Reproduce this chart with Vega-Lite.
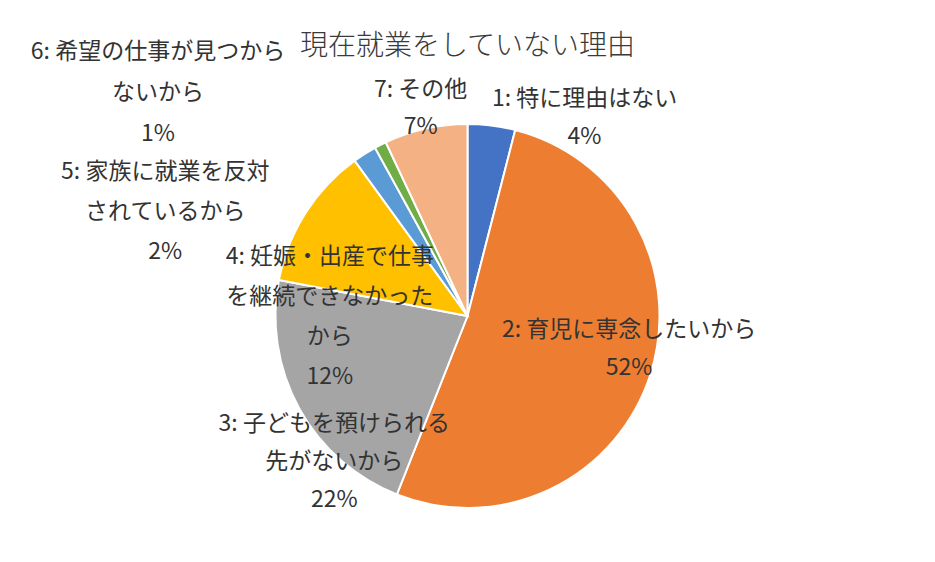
{
  "$schema": "https://vega.github.io/schema/vega-lite/v6.json",
  "width": 935,
  "height": 492,
  "autosize": "none",
  "padding": {"top": 70, "left": 0, "right": 0, "bottom": 0},
  "background": "white",
  "title": {"text": "現在就業をしていない理由", "font": "Noto Sans CJK JP", "fontSize": 28, "fontWeight": 300, "color": "#3a3a3a", "anchor": "middle", "baseline": "middle", "offset": 26, "dy": 60},
  "data": {"values": [
    {"id": 1, "label": "1: 特に理由はない", "value": 4},
    {"id": 2, "label": "2: 育児に専念したいから", "value": 52},
    {"id": 3, "label": "3: 子どもを預けられる\n先がないから", "value": 22},
    {"id": 4, "label": "4: 妊娠・出産で仕事\nを継続できなかった\nから", "value": 12},
    {"id": 5, "label": "5: 家族に就業を反対\nされているから", "value": 2},
    {"id": 6, "label": "6: 希望の仕事が見つから\nないから", "value": 1},
    {"id": 7, "label": "7: その他", "value": 7}
  ]},
  "transform": [
    {"stack": "value", "groupby": [], "sort": [{"field": "id", "order": "ascending"}], "as": ["v0", "v1"]},
    {"calculate": "(datum.v0 + datum.v1) / 2", "as": "mid"},
    {"calculate": "datum.label + '\\n' + datum.value + '%'", "as": "txt"}
  ],
  "layer": [
    {
      "mark": {"type": "arc", "radius": 192, "stroke": "white", "strokeWidth": 2},
      "encoding": {
        "theta": {"field": "v0", "type": "quantitative", "scale": {"domain": [0, 100]}},
        "theta2": {"field": "v1"},
        "color": {"field": "id", "type": "nominal", "legend": null,
          "scale": {"domain": [1, 2, 3, 4, 5, 6, 7], "range": ["#4472C4", "#ED7D31", "#A5A5A5", "#FFC000", "#5B9BD5", "#70AD47", "#F4B183"]}}
      }
    },
    {"transform": [{"filter": "datum.id == 1"}], "mark": {"type": "text", "radius": 200, "dx": 92, "dy": -19, "align": "center", "baseline": "middle", "lineBreak": "\n", "lineHeight": 38, "font": "Noto Sans CJK JP", "fontSize": 23, "color": "#333333"},
     "encoding": {"theta": {"field": "mid", "type": "quantitative", "scale": {"domain": [0, 100]}}, "text": {"field": "txt"}}},
    {"transform": [{"filter": "datum.id == 2"}], "mark": {"type": "text", "radius": 170, "dx": 0, "dy": -39, "align": "center", "baseline": "middle", "lineBreak": "\n", "lineHeight": 38, "font": "Noto Sans CJK JP", "fontSize": 23, "color": "#333333"},
     "encoding": {"theta": {"field": "mid", "type": "quantitative", "scale": {"domain": [0, 100]}}, "text": {"field": "txt"}}},
    {"transform": [{"filter": "datum.id == 3"}], "mark": {"type": "text", "radius": 200, "dx": 42, "dy": 12, "align": "center", "baseline": "middle", "lineBreak": "\n", "lineHeight": 38, "font": "Noto Sans CJK JP", "fontSize": 23, "color": "#333333"},
     "encoding": {"theta": {"field": "mid", "type": "quantitative", "scale": {"domain": [0, 100]}}, "text": {"field": "txt"}}},
    {"transform": [{"filter": "datum.id == 4"}], "mark": {"type": "text", "radius": 150, "dx": -11, "dy": 21, "align": "center", "baseline": "middle", "lineBreak": "\n", "lineHeight": 40, "font": "Noto Sans CJK JP", "fontSize": 23, "color": "#333333"},
     "encoding": {"theta": {"field": "mid", "type": "quantitative", "scale": {"domain": [0, 100]}}, "text": {"field": "txt"}}},
    {"transform": [{"filter": "datum.id == 5"}], "mark": {"type": "text", "radius": 230, "dx": -179, "dy": 50, "align": "center", "baseline": "middle", "lineBreak": "\n", "lineHeight": 40, "font": "Noto Sans CJK JP", "fontSize": 23, "color": "#333333"},
     "encoding": {"theta": {"field": "mid", "type": "quantitative", "scale": {"domain": [0, 100]}}, "text": {"field": "txt"}}},
    {"transform": [{"filter": "datum.id == 6"}], "mark": {"type": "text", "radius": 250, "dx": -196, "dy": -41, "align": "center", "baseline": "middle", "lineBreak": "\n", "lineHeight": 41, "font": "Noto Sans CJK JP", "fontSize": 23, "color": "#333333"},
     "encoding": {"theta": {"field": "mid", "type": "quantitative", "scale": {"domain": [0, 100]}}, "text": {"field": "txt"}}},
    {"transform": [{"filter": "datum.id == 7"}], "mark": {"type": "text", "radius": 210, "dx": -1, "dy": -21, "align": "center", "baseline": "middle", "lineBreak": "\n", "lineHeight": 37, "font": "Noto Sans CJK JP", "fontSize": 23, "color": "#333333"},
     "encoding": {"theta": {"field": "mid", "type": "quantitative", "scale": {"domain": [0, 100]}}, "text": {"field": "txt"}}}
  ],
  "config": {"view": {"stroke": null}}
}
